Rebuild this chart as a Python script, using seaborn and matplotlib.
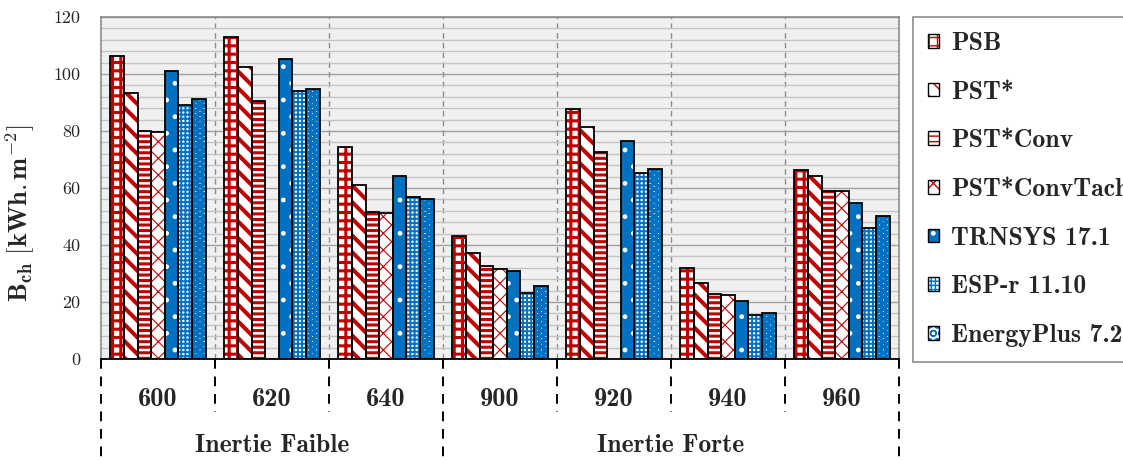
import pandas as pd
import seaborn as sns
import matplotlib.pyplot as plt
import numpy as np
from matplotlib.patches import Rectangle, Patch
import matplotlib.transforms as mtransforms

# Data
cases = ["600", "620", "640", "900", "920", "940", "960"]
inertia_groups = ["Inertie Faible", "Inertie Forte"]
series = ["PSB", "PST*", "PST*Conv", "PST*ConvTach",
          "TRNSYS 17.1", "ESP-r 11.10", "EnergyPlus 7.2"]

psb = [106.3, 113.0, 74.5, 43.0, 87.8, 32.0, 66.3]
pst = [93.3, 102.3, 61.0, 37.2, 81.3, 26.5, 64.3]
pst_conv = [80.0, 90.5, 51.5, 32.5, 72.7, 22.7, 58.8]
pst_conv_tach = [79.5, np.nan, 51.3, 31.7, np.nan, 22.5, 59.0]
trnsys = [101.0, 105.3, 64.2, 30.8, 76.5, 20.2, 54.7]
espr = [89.2, 94.0, 57.0, 23.1, 65.3, 15.5, 46.1]
eplus = [91.2, 94.7, 56.0, 25.5, 66.5, 16.0, 50.3]

values = [psb, pst, pst_conv, pst_conv_tach, trnsys, espr, eplus]

df = pd.DataFrame({
    "case": np.tile(cases, len(series)),
    "model": np.repeat(series, len(cases)),
    "B": np.concatenate(values),
})

# Styles
red = "#c00000"
blue = "#0070c0"
faces = ["white", "white", "white", "white", blue, "white", "white"]
hatch_colors = [red, red, red, red, "white", blue, blue]
hatches = ["++", "\\\\", "---", "xx", ".", "++++", "OO"]
hatch_lws = [2.2, 2.9, 2.2, 0.8, 1.0, 1.4, 2.6]

sns.set_style("white")
plt.rcParams["mathtext.fontset"] = "cm"
plt.rcParams["axes.formatter.use_mathtext"] = True
bold_font = ["cmb10", "DejaVu Serif"]
reg_font = ["cmr10", "DejaVu Serif"]

fig = plt.figure(figsize=(11.23, 4.61), dpi=100)
ax = fig.add_axes([101 / 1123, 1 - 359 / 461, 798 / 1123, 342 / 461])
ax.set_facecolor("#f0f0f0")

sns.barplot(data=df, x="case", y="B", hue="model", order=cases,
            hue_order=series, width=0.835, ax=ax, legend=False,
            errorbar=None, saturation=1)

for i, cont in enumerate(ax.containers):
    for p in cont.patches:
        if np.isnan(p.get_height()):
            continue
        p.set_facecolor(faces[i])
        p.set_edgecolor(hatch_colors[i])
        p.set_hatch(hatches[i])
        p.set_linewidth(0)
        if hasattr(p, "set_hatch_linewidth"):
            p.set_hatch_linewidth(hatch_lws[i])
        ax.add_patch(Rectangle(p.get_xy(), p.get_width(), p.get_height(),
                               fill=False, edgecolor="black", lw=1.3, zorder=3))

# Axes formatting
ax.set_xlim(-0.5, len(cases) - 0.5)
ax.set_ylim(0, 120)
ax.set_yticks(np.arange(0, 121, 4), minor=True)
ax.grid(axis="y", which="major", color="#a0a0a0", lw=1.0)
ax.grid(axis="y", which="minor", color="#c4c4c4", lw=1.0)
ax.set_axisbelow(True)
for xb in np.arange(0.5, len(cases) - 0.5, 1):
    ax.axvline(xb, color="#8c8c8c", lw=1.0, ls=(0, (4, 3)), zorder=0.5)

for s in ["left", "top", "right"]:
    ax.spines[s].set_color("#8c8c8c")
    ax.spines[s].set_linewidth(1.2)
ax.spines["bottom"].set_color("black")
ax.spines["bottom"].set_linewidth(1.3)

ax.tick_params(axis="y", which="major", length=6, color="#8c8c8c", pad=9,
               labelsize=13)
ax.tick_params(axis="y", which="minor", length=0)
ax.tick_params(axis="x", length=4, width=1, color="black", pad=17,
               labelsize=19)
ax.set_yticks(np.arange(0, 121, 20))
ax.set_yticklabels([str(v) for v in range(0, 121, 20)], family=reg_font)
ax.set_xticks(range(len(cases)))
ax.set_xticklabels(cases, family=bold_font)
ax.set_xlabel("")
ax.set_ylabel(r"$\mathbf{B_{ch}\ [kWh{.}m^{-2}]}$", fontsize=19)
ax.yaxis.set_label_coords(-0.08, 0.425)

# Dashed separators below the axis
trans = mtransforms.blended_transform_factory(ax.transData, ax.transAxes)
for k, xb in enumerate(np.arange(-0.5, len(cases), 1)):
    y_end = -0.30 if k in (0, 3, 7) else -0.155
    ax.plot([xb, xb], [0, y_end], transform=trans, color="black", lw=1.4,
            ls=(0, (5, 4)), clip_on=False)

ax.text(1.0, -0.253, inertia_groups[0], transform=trans, ha="center",
        va="center", fontsize=18.5, family=bold_font)
ax.text(4.5, -0.253, inertia_groups[1], transform=trans, ha="center",
        va="center", fontsize=18.5, family=bold_font)

# Legend
handles = []
for i in range(len(series)):
    fill = Patch(facecolor=faces[i], edgecolor=hatch_colors[i],
                 hatch=hatches[i], lw=0)
    if hasattr(fill, "set_hatch_linewidth"):
        fill.set_hatch_linewidth(hatch_lws[i] * 0.7)
    outline = Patch(facecolor="none", edgecolor="black", lw=1.0)
    handles.append((fill, outline))
leg = fig.legend(handles, series, loc="upper left",
                 bbox_to_anchor=(913 / 1123, 1 - 17 / 461),
                 bbox_transform=fig.transFigure, borderaxespad=0,
                 prop={"family": bold_font, "size": 18.5},
                 handlelength=0.45, handleheight=0.45, handletextpad=0.45,
                 labelspacing=1.0, borderpad=0.58, fancybox=False,
                 edgecolor="#8c8c8c", framealpha=1)
leg.get_frame().set_linewidth(1.2)

fig.savefig("out.png", dpi=100)
